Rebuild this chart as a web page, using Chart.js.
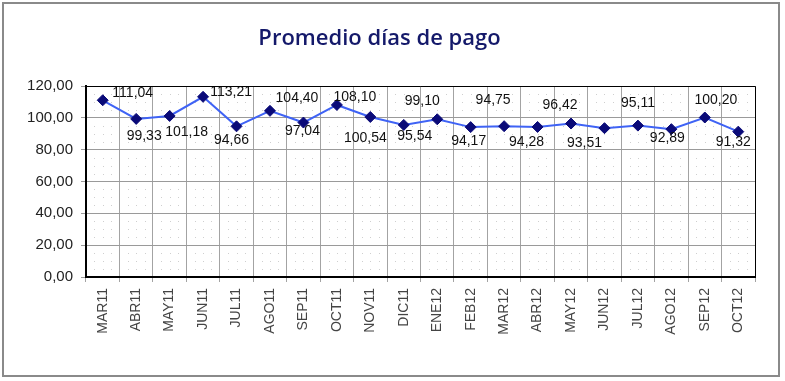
<!DOCTYPE html>
<html>
<head>
<meta charset="utf-8">
<script src="https://cdn.jsdelivr.net/npm/chart.js@4.4.0/dist/chart.umd.min.js"></script>
<style>
  html, body { margin: 0; padding: 0; background: #fff; }
  #box { position: absolute; left: 2px; top: 2px; width: 774px; height: 371px; border: 2px solid #8a8a8a; }
  #c { display: block; }
</style>
</head>
<body>
<div id="box"><canvas id="c" width="774" height="371"></canvas></div>
<script>
const categories = ['MAR11','ABR11','MAY11','JUN11','JUL11','AGO11','SEP11','OCT11','NOV11','DIC11',
                    'ENE12','FEB12','MAR12','ABR12','MAY12','JUN12','JUL12','AGO12','SEP12','OCT12'];
const values = [111.04, 99.33, 101.18, 113.21, 94.66, 104.40, 97.04, 108.10, 100.54, 95.54,
                99.10, 94.17, 94.75, 94.28, 96.42, 93.51, 95.11, 92.89, 100.20, 91.32];
const yTickValues = [0, 20, 40, 60, 80, 100, 120];
const titleText = 'Promedio días de pago';

// styling: label offsets (dx, dy) in pixels relative to each point
const labelOffsets = [[30,-7],[8,17],[17,16],[28,-5],[-5,14],[27,-13],[-1,9],[18,-8],[-5,21],[11,11],
                      [-15,-18],[-2,14],[-11,-26],[-11,15],[-11,-18],[-20,15],[0,-22],[-4,9],[11,-17],[-5,10]];

const fmt = v => Number(v).toFixed(2).replace('.', ',');

const bgDots = {
  id: 'bgDots',
  beforeDraw(chart) {
    const {ctx, chartArea: a, scales: {y}} = chart;
    const n = categories.length;
    const w = (a.right - a.left) / n;
    ctx.save();
    ctx.fillStyle = '#cfcfcf';
    for (let i = 0; i < n; i++) {
      for (let k = 1; k <= 3; k++) {
        const px = Math.round(a.left + i * w + w * k / 4);
        for (let v = 5; v < 120; v += 5) {
          if (v % 20 === 0) continue;
          const py = Math.round(y.getPixelForValue(v));
          ctx.fillRect(px, py, 1, 1);
        }
      }
    }
    ctx.restore();
  }
};

const frame = {
  id: 'frame',
  afterDraw(chart) {
    const {ctx, chartArea: a} = chart;
    ctx.save();
    ctx.strokeStyle = '#000';
    ctx.lineWidth = 1;
    ctx.beginPath();
    ctx.moveTo(a.left, a.top + 0.5);
    ctx.lineTo(a.right + 0.5, a.top + 0.5);
    ctx.lineTo(a.right + 0.5, a.bottom);
    ctx.stroke();
    ctx.restore();
  }
};

const valueLabels = {
  id: 'valueLabels',
  afterDatasetsDraw(chart) {
    const {ctx} = chart;
    const meta = chart.getDatasetMeta(0);
    ctx.save();
    ctx.font = '14px "Liberation Sans", Arial, sans-serif';
    ctx.fillStyle = '#111';
    ctx.textAlign = 'center';
    ctx.textBaseline = 'middle';
    meta.data.forEach((pt, i) => {
      const [dx, dy] = labelOffsets[i];
      ctx.fillText(fmt(values[i]), pt.x + dx, pt.y + dy);
    });
    ctx.restore();
  }
};

new Chart(document.getElementById('c'), {
  type: 'line',
  data: {
    labels: categories,
    datasets: [{
      data: values,
      borderColor: '#3f63f5',
      borderWidth: 2,
      pointStyle: 'rectRot',
      pointRadius: 5.5,
      pointBackgroundColor: '#0a0a78',
      pointBorderColor: '#0a0a78',
      pointBorderWidth: 1,
      tension: 0,
      fill: false
    }]
  },
  options: {
    responsive: false,
    animation: false,
    layout: { padding: { left: 0, right: 23, top: 0, bottom: 0 } },
    plugins: {
      legend: { display: false },
      tooltip: { enabled: false },
      title: {
        display: true,
        text: titleText,
        color: '#14196a',
        font: { family: '"Open Sans", sans-serif', size: 22, weight: '600', lineHeight: 1.2 },
        padding: { top: 22, bottom: 33.6 }
      }
    },
    scales: {
      x: {
        type: 'category',
        offset: true,
        grid: { color: '#a3a3a3', lineWidth: 1, offset: true, drawTicks: true, tickLength: 5, tickColor: '#a3a3a3' },
        border: { color: '#000', width: 2 },
        ticks: {
          minRotation: 90, maxRotation: 90, autoSkip: false,
          color: '#444',
          font: { family: '"Liberation Sans", Arial, sans-serif', size: 14 },
          padding: 6
        },
        afterFit(scale) { scale.height = 98; }
      },
      y: {
        min: 0, max: 120,
        afterBuildTicks(scale) { scale.ticks = yTickValues.map(v => ({ value: v })); },
        grid: { color: '#9a9a9a', lineWidth: 1, drawTicks: true, tickLength: 5, tickColor: '#9a9a9a' },
        border: { color: '#000', width: 2 },
        ticks: {
          color: '#222',
          font: { family: '"Liberation Sans", Arial, sans-serif', size: 15 },
          padding: 8,
          callback: v => fmt(v)
        },
        afterFit(scale) { scale.width = 82; }
      }
    }
  },
  plugins: [bgDots, frame, valueLabels]
});
</script>
</body>
</html>
